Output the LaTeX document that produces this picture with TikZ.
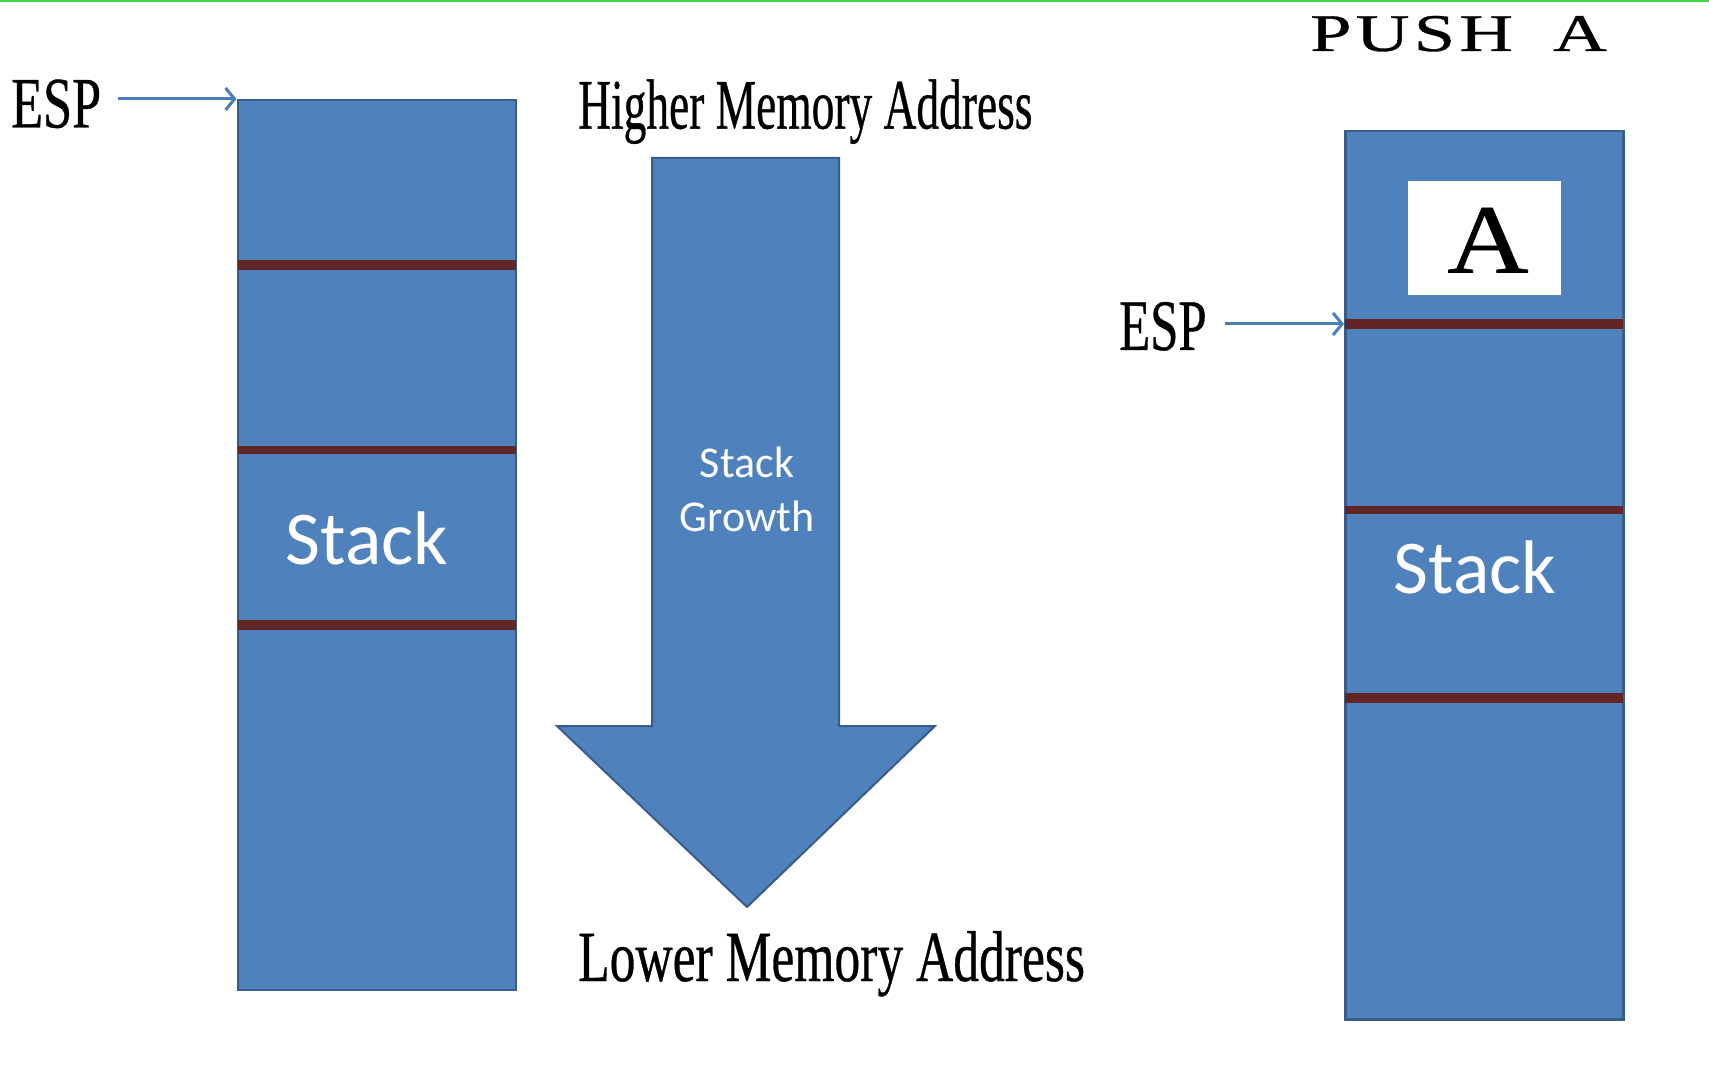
\documentclass[tikz,border=0pt]{standalone}
\usepackage{fontspec}
\setmainfont{Liberation Serif}[FakeBold=0.6]
\newfontfamily\carlito{Carlito}
\usetikzlibrary{arrows.meta}
\definecolor{boxblue}{RGB}{79,129,189}
\definecolor{edgeblue}{RGB}{56,93,138}
\definecolor{sepred}{RGB}{99,37,35}
\definecolor{arrblue}{RGB}{74,126,187}
\definecolor{topgreen}{RGB}{60,220,60}
\tikzset{
  stackbox/.style={draw=edgeblue, line width=2.5pt, fill=boxblue, anchor=north west, inner sep=0pt},
  esparrow/.style={draw=arrblue, line width=3pt, -{Straight Barb[length=9pt,width=22pt,line width=3pt]}},
  lbl/.style={inner sep=0pt, anchor=base west, text=black},
  stacklbl/.style={inner sep=0pt, anchor=base, text=white, font=\carlito\fontsize{76}{80}\selectfont},
}
\begin{document}
\begin{tikzpicture}[x=1pt,y=-1pt]
\useasboundingbox[fill=white] (0,0) rectangle (1709,1067);
\draw[topgreen, line width=2.5pt] (0,1) -- (1709,1);

% left stack
\node[stackbox, minimum width=278pt, minimum height=889.5pt] (stackL) at (236.5,99) {};
\foreach \d/\w in {166/10, 351/8, 525.5/10}{
  \draw[sepred, line width=\w pt] ([yshift=-\d pt,xshift=1.25pt]stackL.north west) -- ([yshift=-\d pt,xshift=-1.25pt]stackL.north east);
}
\node[stacklbl] (stackLtxt) at (367,564.6) {Stack};
\node[lbl] (espL) at (11,127.5) {\fontsize{72.5}{80}\selectfont\scalebox{0.72}[1]{ESP}};
\draw[esparrow, shorten <=17pt] (espL.east |- stackL.north west) -- (stackL.north west);

% growth arrow
\draw[fill=boxblue, draw=edgeblue, line width=2pt, line join=miter]
  (652,158) -- (839,158) -- (839,726) -- (935,726) -- (747,907) -- (557,726) -- (652,726) -- cycle;
\node[inner sep=0pt, text=white, align=center, font=\carlito\fontsize{44}{54}\selectfont] (growth) at (747,489) {Stack\\Growth};
\node[lbl] (hi) at (578,128.6) {\fontsize{71}{80}\selectfont\scalebox{0.64}[1]{Higher Memory Address}};
\node[lbl] (lo) at (578,981) {\fontsize{72}{80}\selectfont\scalebox{0.716}[1]{Lower Memory Address}};

% right stack
\node[lbl] (push) at (1310,51) {\fontsize{53}{60}\selectfont\addfontfeatures{LetterSpace=6}\scalebox{1.4}[1]{PUSH\hspace{0.54em}A}};
\node[stackbox, minimum width=278pt, minimum height=888pt] (stackR) at (1344,130) {};
\foreach \d/\w in {194/10, 380/8, 567.5/10}{
  \draw[sepred, line width=\w pt] ([yshift=-\d pt,xshift=1.25pt]stackR.north west) -- ([yshift=-\d pt,xshift=-1.25pt]stackR.north east);
}
\node[fill=white, inner sep=0pt, minimum width=153pt, minimum height=114pt, anchor=north west] (abox) at (1408,181) {};
\node[lbl, anchor=base] (atxt) at (1488,272.5) {\fontsize{98}{100}\selectfont\scalebox{1.15}[1]{A}};
\node[stacklbl] (stackRtxt) at (1475,593) {Stack};
\coordinate (ptrR) at ([yshift=-194pt]stackR.north west);
\node[lbl] (espR) at (1119,350) {\fontsize{72.5}{80}\selectfont\scalebox{0.70}[1]{ESP}};
\draw[esparrow, shorten <=18pt] (espR.east |- ptrR) -- (ptrR);
\end{tikzpicture}
\end{document}
